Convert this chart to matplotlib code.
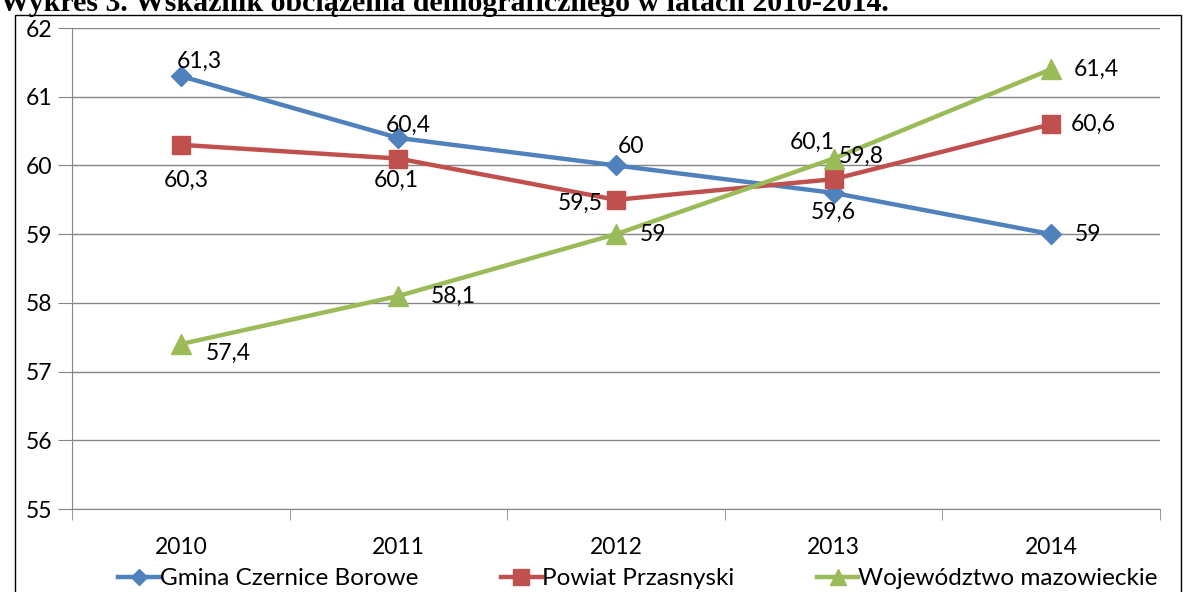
import numpy as np
import matplotlib
matplotlib.use('Agg')
import matplotlib.pyplot as plt
from matplotlib.lines import Line2D
from matplotlib.patches import Rectangle

plt.rcParams['font.family'] = ['Lato', 'DejaVu Sans']

years = ['2010', '2011', '2012', '2013', '2014']
gmina = [61.3, 60.4, 60.0, 59.6, 59.0]
powiat = [60.3, 60.1, 59.5, 59.8, 60.6]
woj = [57.4, 58.1, 59.0, 60.1, 61.4]

names = ['Gmina Czernice Borowe', 'Powiat Przasnyski', 'Województwo mazowieckie']
colors = ['#4F81BD', '#C0504D', '#9BBB59']
markers = ['D', 's', '^']
msizes = [10, 13, 14]

# label offsets (pixels) per point
offs = [
    [(19, 15), (10, 13), (15, 19), (0, -19), (37, 0)],
    [(5, -36), (-2, -22), (-36, -4), (28, 23), (42, 0)],
    [(47, -9), (55, 0), (37, 0), (-21, 16), (45, 0)],
]

fig = plt.figure(figsize=(11.84, 5.92), dpi=100)
ax = fig.add_axes([72 / 1184, 1 - 509 / 592, (1160 - 72) / 1184, (509 - 28) / 592])

x = np.arange(len(years))
for vals, c, m, ms, name, off in zip([gmina, powiat, woj], colors, markers, msizes, names, offs):
    ax.plot(x, vals, color=c, lw=3.2, marker=m, ms=ms, label=name, zorder=3)
    for xi, v, (dx, dy) in zip(x, vals, off):
        s = f'{v:g}'.replace('.', ',')
        ax.annotate(s, (xi, v), xytext=(dx * 0.72, dy * 0.72), textcoords='offset points',
                    ha='center', va='center', fontsize=16.5, color='black', zorder=4)

ax.set_xlim(-0.5, 4.5)
ax.set_ylim(55, 62)
ax.set_yticks(range(55, 63))
ax.set_xticks(x)
ax.set_xticklabels(years)
ax.set_xticks(np.arange(-0.5, 5, 1), minor=True)
ax.tick_params(axis='x', which='major', length=0, pad=20, labelsize=16.5)
ax.tick_params(axis='x', which='minor', length=8, color='#868686', direction='out')
ax.tick_params(axis='y', length=10, color='#868686', labelsize=16.5, pad=4)
ax.grid(axis='y', color='#868686', lw=1)
ax.set_axisbelow(True)
for s in ['top', 'right']:
    ax.spines[s].set_visible(False)
for s in ['left', 'bottom']:
    ax.spines[s].set_color('#868686')

handles = [Line2D([0], [0], color=c, lw=3.2, marker=m, ms=ms * 0.85) for c, m, ms in zip(colors, markers, msizes)]
fig.legend(handles, names, loc='center', bbox_to_anchor=(0.539, 0.022), ncol=3, frameon=False,
           fontsize=17.5, handlelength=1.7, handletextpad=0.0, columnspacing=3.4)

fig.patches.append(Rectangle((15 / 1184, -0.1), (1181 - 15) / 1184, 1.1 - 15 / 592,
                             transform=fig.transFigure, fill=False, edgecolor='black', lw=1))

fig.text(0.0, 1 - 11 / 592, 'Wykres 3. Wskaźnik obciążenia demograficznego w latach 2010-2014.',
         family='Liberation Serif', weight='bold', fontsize=21.5, va='baseline', ha='left')

fig.savefig('out.png', dpi=100)
